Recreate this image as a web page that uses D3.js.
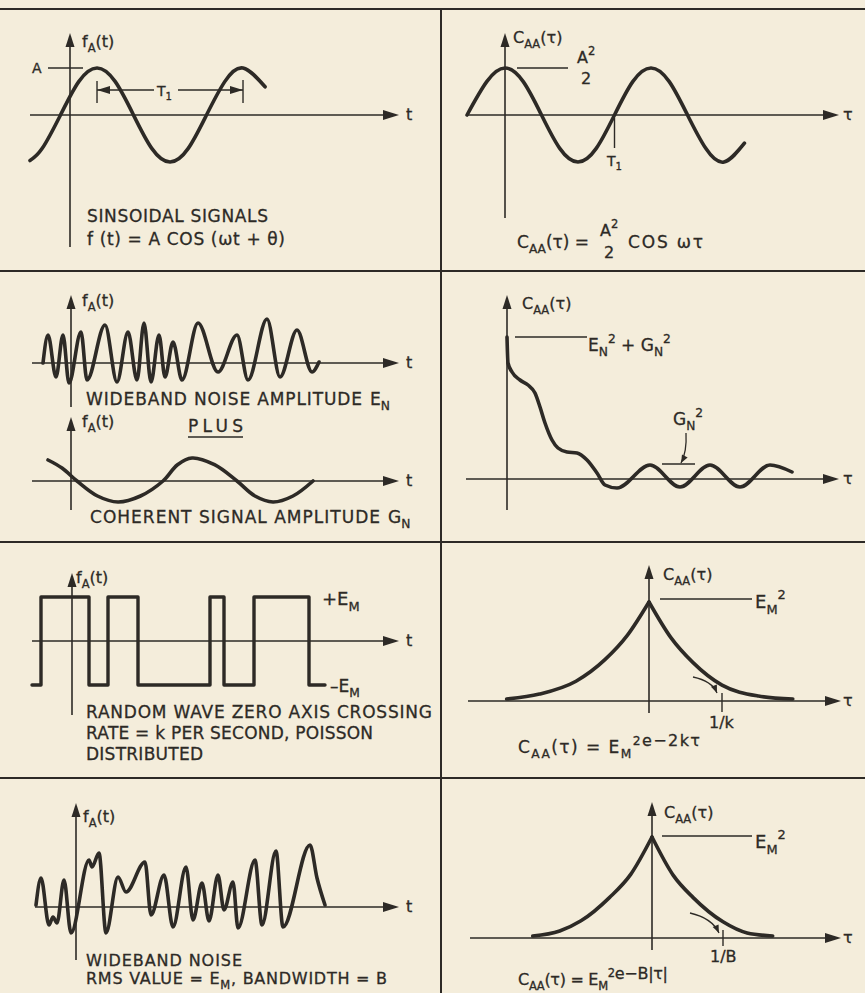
<!DOCTYPE html>
<html><head><meta charset="utf-8">
<script src="https://cdn.jsdelivr.net/npm/d3@7"></script>
<style>
html,body{margin:0;padding:0;background:#f4eddb;}
svg{display:block;}
text{font-family:"DejaVu Sans",sans-serif;fill:#2d2a26;stroke:#2d2a26;stroke-width:0.3px;}
</style></head><body>
<svg id="c" width="865" height="993"></svg>
<script>
// ---------------- DATA ----------------
// Row 1 left: sinusoidal signal, t in periods T1, f in units of A
const sinusoidSignal = [[-0.274,-0.97],[-0.19,-0.71],[-0.065,0],[0.06,0.71],[0.185,1],[0.31,0.71],[0.435,0],[0.56,-0.71],[0.685,-1],[0.81,-0.71],[0.935,0],[1.06,0.71],[1.185,1],[1.336,0.6]];
// Row 1 right: autocorrelation of sinusoid, tau in periods T1, C in units of A^2/2
const sinusoidAutocorr = [[-0.26,0],[-0.125,0.71],[0,1],[0.125,0.71],[0.25,0],[0.375,-0.71],[0.5,-1],[0.625,-0.71],[0.75,0],[0.875,0.71],[1,1],[1.125,0.71],[1.25,0],[1.375,-0.71],[1.5,-1],[1.64,-0.6]];
// Row 2 left upper: wideband noise (arbitrary units)
const wideNoiseEN = [[-2.8,0],[-2.3,2.8],[-1.5,-1.4],[-0.8,2.8],[-0.2,-2.0],[1.0,3.1],[1.6,-1.7],[3.4,3.8],[4.6,-1.9],[5.7,3.1],[6.6,-1.7],[7.3,4.0],[8.0,-1.9],[8.8,2.8],[9.4,-1.4],[10.2,2.1],[11.1,-1.7],[12.7,4.0],[14.7,-0.9],[16.6,2.8],[17.7,-1.7],[19.6,4.4],[20.9,-1.4],[22.6,3.3],[24.1,-0.9],[24.8,0.1]];
// Row 2 left lower: coherent signal (arbitrary units)
const coherentGN = [[-2.3,2.1],[-0.9,1.3],[0.6,0],[2.65,-1.5],[4.7,-2.1],[6.95,-1.5],[9.2,0],[10.65,1.63],[12.1,2.3],[14.35,1.63],[16.6,0],[18.4,-1.5],[20.2,-2.1],[22.2,-1.5],[24.2,0]];
// Row 2 right: autocorrelation of noise plus coherent signal
const noisePlusSignalAutocorr = [[0,14.2],[0.1,11.6],[0.5,10.7],[1.3,9.9],[2.1,9.4],[2.8,8.6],[3.3,7.2],[3.8,5.6],[4.5,3.9],[5.1,3.1],[6.0,2.7],[7.0,2.6],[8.0,1.9],[9.0,0.6],[9.8,-0.6],[11.0,-0.9],[14.3,1.4],[17.3,-0.8],[20.3,1.4],[23.3,-0.8],[26.3,1.4],[28.5,0.7]];
// Row 3 left: random telegraph wave, levels in units of E_M (step after each time)
const randomWave = [[-4.0,-1],[-3.1,1],[1.7,-1],[3.6,1],[6.6,-1],[13.8,1],[15.2,-1],[18.2,1],[23.7,-1],[25.3,-1]];
// Row 3 right: autocorrelation, tau in units of 1/k, C in units of E_M^2
const randomWaveAutocorr = [[-1.95,0.02],[-1.5,0.07],[-1.0,0.2],[-0.6,0.42],[-0.3,0.66],[0,1],[0.3,0.64],[0.6,0.39],[1.0,0.16],[1.5,0.05],[1.97,0.02]];
// Row 4 left: wideband noise, RMS E_M (arbitrary units)
const wideNoiseEM = [[-4.0,0.2],[-3.5,2.9],[-2.7,-1.8],[-2.3,-1.0],[-1.9,-1.6],[-1.2,2.7],[-0.5,-2.6],[1.3,4.7],[1.6,4.0],[2.3,5.4],[3.0,-2.6],[4.2,3.0],[5.0,1.5],[6.9,4.5],[7.5,-0.8],[8.8,3.2],[9.7,-2.0],[11.0,4.0],[11.7,-1.3],[12.6,2.4],[13.3,-1.4],[14.2,3.2],[14.8,-0.3],[15.7,2.5],[16.2,-2.1],[17.9,4.7],[18.6,-1.8],[20.0,5.6],[20.7,-2.0],[23.4,6.2],[24.1,2.9],[24.9,0.2]];
// Row 4 right: autocorrelation, tau in units of 1/B, C in units of E_M^2
const wideNoiseAutocorr = [[-1.68,0.02],[-1.3,0.07],[-1.0,0.17],[-0.6,0.4],[-0.3,0.63],[0,1],[0.3,0.62],[0.58,0.4],[1.0,0.16],[1.34,0.05],[1.7,0.02]];

// ---------------- DRAWING ----------------
const ink = "#2d2a26";
const svg = d3.select("#c");
const lin = (d, r) => d3.scaleLinear().domain(d).range(r);

[9, 271, 542, 778].forEach(y => svg.append("line").attr("x1",0).attr("x2",865).attr("y1",y).attr("y2",y).attr("stroke",ink).attr("stroke-width",2));
svg.append("line").attr("x1",441).attr("x2",441).attr("y1",9).attr("y2",993).attr("stroke",ink).attr("stroke-width",2);

function axes(sx, sy, hx0, hx1, vy0, vy1) {
  const y0 = sy(0), x0 = sx(0);
  svg.append("line").attr("x1",hx0).attr("x2",hx1-8).attr("y1",y0).attr("y2",y0).attr("stroke",ink).attr("stroke-width",1.6);
  svg.append("path").attr("d",`M${hx1},${y0}L${hx1-16},${y0-5}L${hx1-16},${y0+5}Z`).attr("fill",ink);
  svg.append("line").attr("x1",x0).attr("x2",x0).attr("y1",vy0).attr("y2",vy1+8).attr("stroke",ink).attr("stroke-width",1.6);
  svg.append("path").attr("d",`M${x0},${vy1}L${x0-4.5},${vy1+14}L${x0+4.5},${vy1+14}Z`).attr("fill",ink);
}
function curve(data, sx, sy, c, w=3.6) {
  svg.append("path").attr("d", d3.line().x(d=>sx(d[0])).y(d=>sy(d[1])).curve(c)(data))
    .attr("fill","none").attr("stroke",ink).attr("stroke-width",w).attr("stroke-linejoin","round").attr("stroke-linecap","round");
}
function hline(x1, x2, y, w=1.4) { svg.append("line").attr("x1",x1).attr("x2",x2).attr("y1",y).attr("y2",y).attr("stroke",ink).attr("stroke-width",w); }
function vline(x, y1, y2, w=1.4) { svg.append("line").attr("x1",x).attr("x2",x).attr("y1",y1).attr("y2",y2).attr("stroke",ink).attr("stroke-width",w); }
function rich(x, y, parts, size=16, len=null) {
  const t = svg.append("text").attr("x",x).attr("y",y).attr("font-size",size);
  let off = 0;
  parts.forEach(p => {
    const [s, kind, fs] = typeof p === "string" ? [p, null] : p;
    const target = kind==="sub" ? size*0.32 : kind==="sup" ? -size*0.5 : kind==="up" ? -size*0.4 : 0;
    const ts = t.append("tspan").text(s).attr("dy", target-off);
    if (fs) ts.attr("font-size", fs);
    else if (kind==="sub"||kind==="sup") ts.attr("font-size", size*0.72);
    off = target;
  });
  if (len) t.attr("textLength",len).attr("lengthAdjust","spacing");
  return t;
}
function arrowCurve(x0,y0,cx,cy,x1,y1) {
  svg.append("path").attr("d",`M${x0},${y0}Q${cx},${cy} ${x1},${y1}`).attr("fill","none").attr("stroke",ink).attr("stroke-width",1.3);
  const a = Math.atan2(y1-cy, x1-cx), L=8, Wd=3.2;
  const bx = x1 - L*Math.cos(a), by = y1 - L*Math.sin(a);
  svg.append("path").attr("d",`M${x1},${y1}L${bx - Wd*Math.sin(a)},${by + Wd*Math.cos(a)}L${bx + Wd*Math.sin(a)},${by - Wd*Math.cos(a)}Z`).attr("fill",ink);
}
function dimArrow(x, y, dir) {
  svg.append("path").attr("d",`M${x},${y}L${x-dir*13},${y-4}L${x-dir*13},${y+4}Z`).attr("fill",ink);
}

// ---- Row 1 left
{
  const sx = lin([0,1],[70,216]), sy = lin([0,1],[115,68]);
  axes(sx, sy, 30, 399, 247, 33);
  curve(sinusoidSignal, sx, sy, d3.curveNatural);
  hline(48, 83, sy(1));
  const a = sx(0.185), b = sx(1.185);
  vline(a, 81, 103); vline(b, 80, 103);
  hline(a, 154, 90); hline(178, b, 90);
  dimArrow(a, 90, -1); dimArrow(b, 90, 1);
  rich(82, 47, ["f",["A","sub"],"(t)"], 16);
  rich(32, 73, ["A"], 14);
  rich(157, 96, ["T",["1","sub"]], 14);
  rich(406, 120, ["t"], 16);
  rich(87, 222, ["SINSOIDAL SIGNALS"], 17, 181);
  rich(87, 245, ["f (t) = A COS (\u03c9t + \u03b8)"], 17, 198);
}
// ---- Row 1 right
{
  const sx = lin([0,1],[505,651]), sy = lin([0,1],[115,68]);
  axes(sx, sy, 466, 839, 218, 33);
  curve(sinusoidAutocorr, sx, sy, d3.curveNatural);
  hline(517, 568, sy(1));
  vline(sx(0.75), 118, 148);
  rich(513, 43, ["C",["AA","sub"],"(\u03c4)"], 16);
  rich(577, 63, ["A",["2","sup"]], 16);
  rich(581, 84, ["2"], 16);
  rich(843, 120, ["\u03c4"], 16);
  rich(607, 166, ["T",["1","sub"]], 14);
  rich(517, 248, ["C",["AA","sub"],"(\u03c4) ="], 17);
  rich(600, 236, ["A",["2","sup"]], 16);
  rich(604, 258, ["2"], 16);
  rich(628, 248, ["COS \u03c9\u03c4"], 17, 75);
}
// ---- Row 2 left
{
  const sx = lin([0,10],[71,171]), sy = lin([0,10],[363,263]);
  axes(sx, sy, 32, 399, 407, 295);
  curve(wideNoiseEN, sx, sy, d3.curveMonotoneX);
  rich(82, 306, ["f",["A","sub"],"(t)"], 16);
  rich(406, 368, ["t"], 16);
  rich(86, 405, ["WIDEBAND NOISE AMPLITUDE"], 17, 276);
  rich(370, 405, ["E",["N","sub"]], 17);
  const sx2 = lin([0,10],[71,171]), sy2 = lin([0,10],[481,381]);
  axes(sx2, sy2, 32, 399, 510, 417);
  curve(coherentGN, sx2, sy2, d3.curveCatmullRom.alpha(0.5));
  rich(82, 427, ["f",["A","sub"],"(t)"], 16);
  rich(188, 432, ["PLUS"], 17, 55);
  hline(188, 243, 437, 1.3);
  rich(406, 486, ["t"], 16);
  rich(90, 523, ["COHERENT SIGNAL  AMPLITUDE"], 17, 290);
  rich(388, 523, ["G",["N","sub"]], 17);
}
// ---- Row 2 right
{
  const sx = lin([0,10],[507,607]), sy = lin([0,10],[479,379]);
  axes(sx, sy, 466, 839, 510, 295);
  curve(noisePlusSignalAutocorr, sx, sy, d3.curveMonotoneX);
  hline(515, 587, sy(14.2));
  rich(522, 309, ["C",["AA","sub"],"(\u03c4)"], 16);
  rich(588, 351, ["E",["N","sub"],["2","sup"]," + G",["N","sub"],["2","sup"]], 17);
  rich(673, 425, ["G",["N","sub"],["2","sup"]], 17);
  hline(662, 695, sy(1.5));
  arrowCurve(686, 433, 687, 452, 681, 463);
  rich(843, 484, ["\u03c4"], 16);
}
// ---- Row 3 left
{
  const sx = lin([0,10],[72,172]), sy = lin([0,1],[641,597]);
  axes(sx, sy, 32, 399, 715, 573);
  curve(randomWave, sx, sy, d3.curveStepAfter, 3.4);
  rich(76, 583, ["f",["A","sub"],"(t)"], 16);
  rich(322, 605, ["+E",["M","sub"]], 18);
  rich(330, 692, ["\u2013E",["M","sub"]], 17);
  rich(406, 646, ["t"], 16);
  rich(86, 718, ["RANDOM WAVE ZERO AXIS CROSSING"], 17, 346);
  rich(86, 739, ["RATE = k PER SECOND, POISSON"], 17, 287);
  rich(86, 760, ["DISTRIBUTED"], 17, 117);
}
// ---- Row 3 right
{
  const sx = lin([0,1],[649,722]), sy = lin([0,1],[701,602]);
  axes(sx, sy, 468, 841, 713, 565);
  curve(randomWaveAutocorr.filter(d=>d[0]<=0), sx, sy, d3.curveMonotoneX);
  curve(randomWaveAutocorr.filter(d=>d[0]>=0), sx, sy, d3.curveMonotoneX);
  hline(660, 752, sy(1) - 3);
  vline(sx(1), 693, 712);
  arrowCurve(693, 677, 712, 681, 717, 693);
  rich(663, 580, ["C",["AA","sub"],"(\u03c4)"], 16);
  rich(755, 608, ["E",["M","sub"],["2","sup"]], 18);
  rich(709, 728, ["1/k"], 16);
  rich(843, 706, ["\u03c4"], 16);
  rich(518, 753, ["C",["AA","sub"],"(\u03c4) = E",["M","sub"],["2","sup"],["e\u22122k\u03c4","up",16]], 17, 182);
}
// ---- Row 4 left
{
  const sx = lin([0,10],[76,176]), sy = lin([0,10],[907,807]);
  axes(sx, sy, 35, 399, 960, 803);
  curve(wideNoiseEM, sx, sy, d3.curveMonotoneX);
  rich(83, 822, ["f",["A","sub"],"(t)"], 16);
  rich(406, 912, ["t"], 16);
  rich(86, 966, ["WIDEBAND NOISE"], 16, 156);
  rich(86, 984, ["RMS VALUE = E",["M","sub"],",  BANDWIDTH = B"], 16, 301);
}
// ---- Row 4 right
{
  const sx = lin([0,1],[652,723]), sy = lin([0,1],[938,837]);
  axes(sx, sy, 470, 841, 950, 802);
  curve(wideNoiseAutocorr.filter(d=>d[0]<=0), sx, sy, d3.curveMonotoneX);
  curve(wideNoiseAutocorr.filter(d=>d[0]>=0), sx, sy, d3.curveMonotoneX);
  hline(662, 752, sy(1) - 1);
  vline(sx(1), 930, 946);
  arrowCurve(690, 913, 712, 918, 719, 933);
  rich(664, 818, ["C",["AA","sub"],"(\u03c4)"], 16);
  rich(755, 848, ["E",["M","sub"],["2","sup"]], 18);
  rich(710, 962, ["1/B"], 16);
  rich(843, 943, ["\u03c4"], 16);
  rich(518, 985, ["C",["AA","sub"],"(\u03c4) = E",["M","sub"],["2","sup"],["e\u2212B|\u03c4|","up",16]], 16, 150);
}
</script>
</body></html>
